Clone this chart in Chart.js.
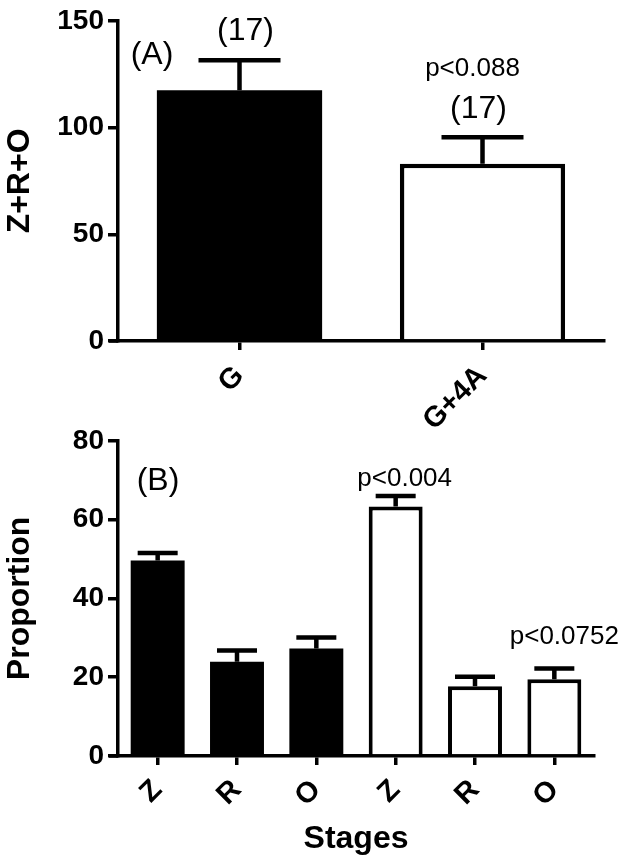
<!DOCTYPE html>
<html>
<head>
<meta charset="utf-8">
<script src="https://cdn.jsdelivr.net/npm/chart.js@4/dist/chart.umd.min.js"></script>
<style>
  html, body { margin: 0; padding: 0; background: #ffffff; }
  #wrap { position: relative; width: 624px; height: 865px; background: #fff; overflow: hidden; }
  canvas { position: absolute; left: 0; }
  #cA { top: 0; z-index: 2; }
  #cB { top: 420px; z-index: 1; }
</style>
</head>
<body>
<div id="wrap">
  <canvas id="cA" width="624" height="445"></canvas>
  <canvas id="cB" width="624" height="445"></canvas>
</div>
<script>
// ---- Data ----
const groupLabels = ['G', 'G+4A'];
const groupMeans = [117.5, 83.0];
const groupSem = [14.0, 12.5];
const groupColors = ['#000000', '#ffffff'];
const groupYTicks = [0, 50, 100, 150];

const stageLabels = ['Z', 'R', 'O', 'Z', 'R', 'O'];
const stageMeans = [49.6, 23.9, 27.3, 63.3, 17.7, 19.5];
const stageSem = [1.9, 2.9, 2.8, 2.7, 2.4, 2.7];
const stageColors = ['#000000', '#000000', '#000000', '#ffffff', '#ffffff', '#ffffff'];
const stageYTicks = [0, 20, 40, 60, 80];

const FONT = "'Liberation Sans', Arial, Helvetica, sans-serif";
const AXIS_W = 3.5;

// Error bar plugin (one-sided, upward, like GraphPad) + x-axis stub left of y-axis
const errorBarPlugin = {
  id: 'errorBars',
  afterDatasetsDraw(chart, args, opts) {
    const ctx = chart.ctx;
    const meta = chart.getDatasetMeta(0);
    const y = chart.scales.y;
    const means = chart.data.datasets[0].data;
    const errs = opts.errors;
    ctx.save();
    ctx.strokeStyle = '#000';
    ctx.lineWidth = opts.lineWidth;
    ctx.lineCap = 'butt';
    meta.data.forEach((bar, i) => {
      const yTop = y.getPixelForValue(means[i]);
      const yCap = y.getPixelForValue(means[i] + errs[i]);
      ctx.beginPath();
      ctx.moveTo(bar.x, yTop);
      ctx.lineTo(bar.x, yCap);
      ctx.moveTo(bar.x - opts.capHalf, yCap);
      ctx.lineTo(bar.x + opts.capHalf, yCap);
      ctx.stroke();
    });
    // GraphPad-style x-axis extending slightly left of the y-axis
    const a = chart.chartArea;
    ctx.lineWidth = AXIS_W;
    ctx.beginPath();
    ctx.moveTo(a.left - 9, a.bottom);
    ctx.lineTo(a.left, a.bottom);
    ctx.stroke();
    ctx.restore();
  }
};

// Annotation text plugin
const notesPlugin = {
  id: 'notes',
  afterDraw(chart, args, opts) {
    const ctx = chart.ctx;
    ctx.save();
    ctx.fillStyle = '#000';
    ctx.textAlign = 'center';
    ctx.textBaseline = 'middle';
    opts.items.forEach(it => {
      ctx.font = it.font;
      const p = it.pos(chart);
      ctx.fillText(it.text, p.x, p.y);
    });
    ctx.restore();
  }
};

function capTop(chart, i, means, errs) {
  const bar = chart.getDatasetMeta(0).data[i];
  return { x: bar.x, y: chart.scales.y.getPixelForValue(means[i] + errs[i]) };
}

function makeChart(el, cfg) {
  return new Chart(el, {
    type: 'bar',
    data: {
      labels: cfg.labels,
      datasets: [{
        data: cfg.means,
        backgroundColor: cfg.colors,
        borderColor: '#000',
        borderWidth: cfg.colors.map(c => c === '#000000' ? 0 : cfg.barBorder),
        borderSkipped: 'bottom',
        categoryPercentage: 1.0,
        barPercentage: 0.68
      }]
    },
    options: {
      responsive: false,
      animation: false,
      devicePixelRatio: 1,
      layout: { padding: cfg.padding },
      plugins: {
        legend: { display: false },
        tooltip: { enabled: false },
        errorBars: { errors: cfg.errs, capHalf: cfg.capHalf, lineWidth: 4.5 },
        notes: { items: cfg.notes }
      },
      scales: {
        x: {
          type: 'category',
          offset: true,
          grid: { display: true, drawOnChartArea: false, offset: false, color: '#000', lineWidth: AXIS_W, tickLength: 9, tickWidth: AXIS_W },
          border: { display: true, color: '#000', width: AXIS_W },
          ticks: {
            color: '#000', autoSkip: false, minRotation: 45, maxRotation: 45, padding: cfg.xPad,
            font: { family: FONT, size: 29, weight: 'bold' }
          },
          title: cfg.xTitle,
          afterFit: (s) => { s.height = cfg.xHeight; }
        },
        y: {
          min: cfg.yTicks[0],
          max: cfg.yTicks[cfg.yTicks.length - 1],
          afterBuildTicks: (s) => { s.ticks = cfg.yTicks.map(v => ({ value: v })); },
          grid: { display: true, drawOnChartArea: false, color: '#000', lineWidth: AXIS_W, tickLength: 10, tickWidth: AXIS_W },
          border: { display: true, color: '#000', width: AXIS_W },
          ticks: { color: '#000', padding: 4, font: { family: FONT, size: 28, weight: 'bold' } },
          title: {
            display: true, text: cfg.yTitle, color: '#000',
            font: { family: FONT, size: 32, weight: 'bold' },
            padding: { top: 1, bottom: 0 }
          },
          afterFit: (s) => { s.width = 118; }
        }
      }
    },
    plugins: [errorBarPlugin, notesPlugin]
  });
}

const normal32 = `32px ${FONT}`;
const normal26 = `26px ${FONT}`;

makeChart(document.getElementById('cA'), {
  labels: groupLabels, means: groupMeans, errs: groupSem, colors: groupColors,
  yTicks: groupYTicks, yTitle: 'Z+R+O', barBorder: 4.5, capHalf: 41,
  padding: { top: 18, right: 20, left: 0, bottom: 0 },
  xHeight: 104, xPad: 9,
  xTitle: { display: false },
  notes: [
    { text: '(A)', font: normal32, pos: (c) => ({ x: c.chartArea.left + 34, y: c.chartArea.top + 34 }) },
    { text: '(17)', font: normal32, pos: (c) => { const p = capTop(c, 0, groupMeans, groupSem); return { x: p.x + 6, y: p.y - 29 }; } },
    { text: 'p<0.088', font: normal26, pos: (c) => { const p = capTop(c, 1, groupMeans, groupSem); return { x: p.x - 10, y: p.y - 68 }; } },
    { text: '(17)', font: normal32, pos: (c) => { const p = capTop(c, 1, groupMeans, groupSem); return { x: p.x - 4, y: p.y - 28 }; } }
  ]
});

makeChart(document.getElementById('cB'), {
  labels: stageLabels, means: stageMeans, errs: stageSem, colors: stageColors,
  yTicks: stageYTicks, yTitle: 'Proportion', barBorder: 4, capHalf: 20,
  padding: { top: 20, right: 30, left: 0, bottom: 0 },
  xHeight: 109, xPad: 8,
  xTitle: {
    display: true, text: 'Stages', color: '#000',
    font: { family: FONT, size: 32, weight: 'bold' },
    padding: { top: 14, bottom: 7 }
  },
  notes: [
    { text: '(B)', font: normal32, pos: (c) => ({ x: c.chartArea.left + 40, y: c.chartArea.top + 40 }) },
    { text: 'p<0.004', font: normal26, pos: (c) => { const p = capTop(c, 3, stageMeans, stageSem); return { x: p.x + 9, y: p.y - 17 }; } },
    { text: 'p<0.0752', font: normal26, pos: (c) => { const p = capTop(c, 5, stageMeans, stageSem); return { x: p.x + 10, y: p.y - 32 }; } }
  ]
});
</script>
</body>
</html>
